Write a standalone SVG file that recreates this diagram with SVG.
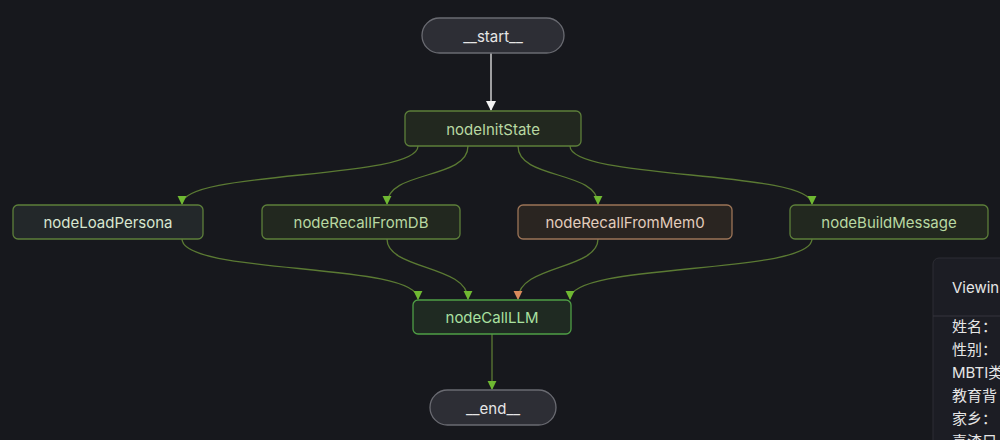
<svg xmlns="http://www.w3.org/2000/svg" width="1000" height="440" viewBox="0 0 1000 440">
<defs>
<style>
text{font-family:Inter,"Liberation Sans","Noto Sans CJK SC",sans-serif;font-size:15px;text-anchor:middle;dominant-baseline:central}
.g rect{fill:#22281f;stroke:#5d7f3a;stroke-width:1.3}
.e{fill:none;stroke:#5b7a33;stroke-width:1.3}
.t{fill:#b9d8a2}
.p{text-anchor:start}
</style>
<marker id="ag" viewBox="0 0 10 10" refX="5" refY="9" markerWidth="11" markerHeight="9" markerUnits="userSpaceOnUse"><path d="M0,0L10,0L5,10z" fill="#6fb832"/></marker>
<marker id="aw" viewBox="0 0 10 10" refX="5" refY="9" markerWidth="11" markerHeight="10" markerUnits="userSpaceOnUse"><path d="M0,0L10,0L5,10z" fill="#f2f2f2"/></marker>
<marker id="ao" viewBox="0 0 10 10" refX="5" refY="9" markerWidth="11" markerHeight="9" markerUnits="userSpaceOnUse"><path d="M0,0L10,0L5,10z" fill="#d98a5c"/></marker>
<clipPath id="pc"><rect x="933" y="258" width="67" height="182"/></clipPath>
</defs>
<rect width="1000" height="440" fill="#17181d"/>
<g id="connectors">
<path d="M491,53V110" stroke="#e8e8e8" stroke-width="1.3" marker-end="url(#aw)"/>
<path class="e" d="M418,146C418,180 182,170 182,204" marker-end="url(#ag)"/>
<path class="e" d="M468,146C468,180 387,170 387,204" marker-end="url(#ag)"/>
<path class="e" d="M518,146C518,180 598,170 598,204" marker-end="url(#ag)"/>
<path class="e" d="M570,146C570,180 812,170 812,204" marker-end="url(#ag)"/>
<path class="e" d="M182,239C182,275 418,262 418,299" marker-end="url(#ag)"/>
<path class="e" d="M387,239C387,270 468,265 468,299" marker-end="url(#ag)"/>
<path class="e" d="M598,239C598,270 518,265 518,299" stroke="#8a6248" marker-end="url(#ao)"/>
<path class="e" d="M812,239C812,275 570,262 570,299" marker-end="url(#ag)"/>
<path class="e" d="M492,334V389" stroke="#4c9a3a" marker-end="url(#ag)"/>
</g>
<g id="start"><rect x="422" y="18" width="142" height="35" rx="17.5" fill="#2d2e35" stroke="#6a6b72" stroke-width="1.3"/><text x="493" y="36" fill="#e6e6e6">__start__</text></g>
<g id="nodeInitState" class="g"><rect x="405" y="111" width="176" height="35" rx="5"/><text class="t" x="493" y="129">nodeInitState</text></g>
<g id="nodeLoadPersona" class="g"><rect x="13" y="205" width="190" height="34" rx="5" style="fill:#23282a"/><text class="t" x="108" y="222" style="fill:#d8e6d0">nodeLoadPersona</text></g>
<g id="nodeRecallFromDB" class="g"><rect x="262" y="205" width="198" height="34" rx="5"/><text class="t" x="361" y="222">nodeRecallFromDB</text></g>
<g id="nodeRecallFromMem0"><rect x="518" y="205" width="214" height="34" rx="5" fill="#2a2521" stroke="#9c7457" stroke-width="1.3"/><text x="625" y="222" fill="#e2cdbd">nodeRecallFromMem0</text></g>
<g id="nodeBuildMessage" class="g"><rect x="790" y="205" width="198" height="34" rx="5"/><text class="t" x="889" y="222">nodeBuildMessage</text></g>
<g id="nodeCallLLM" class="g"><rect x="413" y="300" width="158" height="34" rx="5" style="fill:#1f2a22;stroke:#4f9e45"/><text class="t" x="492" y="317" style="fill:#a9e0a0">nodeCallLLM</text></g>
<g id="end"><rect x="430" y="390" width="126" height="35" rx="17.5" fill="#2d2e35" stroke="#6a6b72" stroke-width="1.3"/><text x="493" y="408" fill="#e6e6e6">__end__</text></g>
<g id="panel">
<rect x="933" y="258" width="80" height="200" rx="6" fill="#1c1d24" stroke="#2c2d34"/>
<line x1="933" y1="316" x2="1000" y2="316" stroke="#34353c"/>
<g fill="#e6e6e6" clip-path="url(#pc)">
<text class="p" x="952" y="287">Viewin</text>
<text class="p" x="952" y="326">姓名：</text>
<text class="p" x="952" y="349">性别：</text>
<text class="p" x="952" y="372">MBTI类</text>
<text class="p" x="952" y="395">教育背</text>
<text class="p" x="952" y="418">家乡：</text>
<text class="p" x="952" y="441">喜渣兄</text>
</g>
</g>
</svg>
